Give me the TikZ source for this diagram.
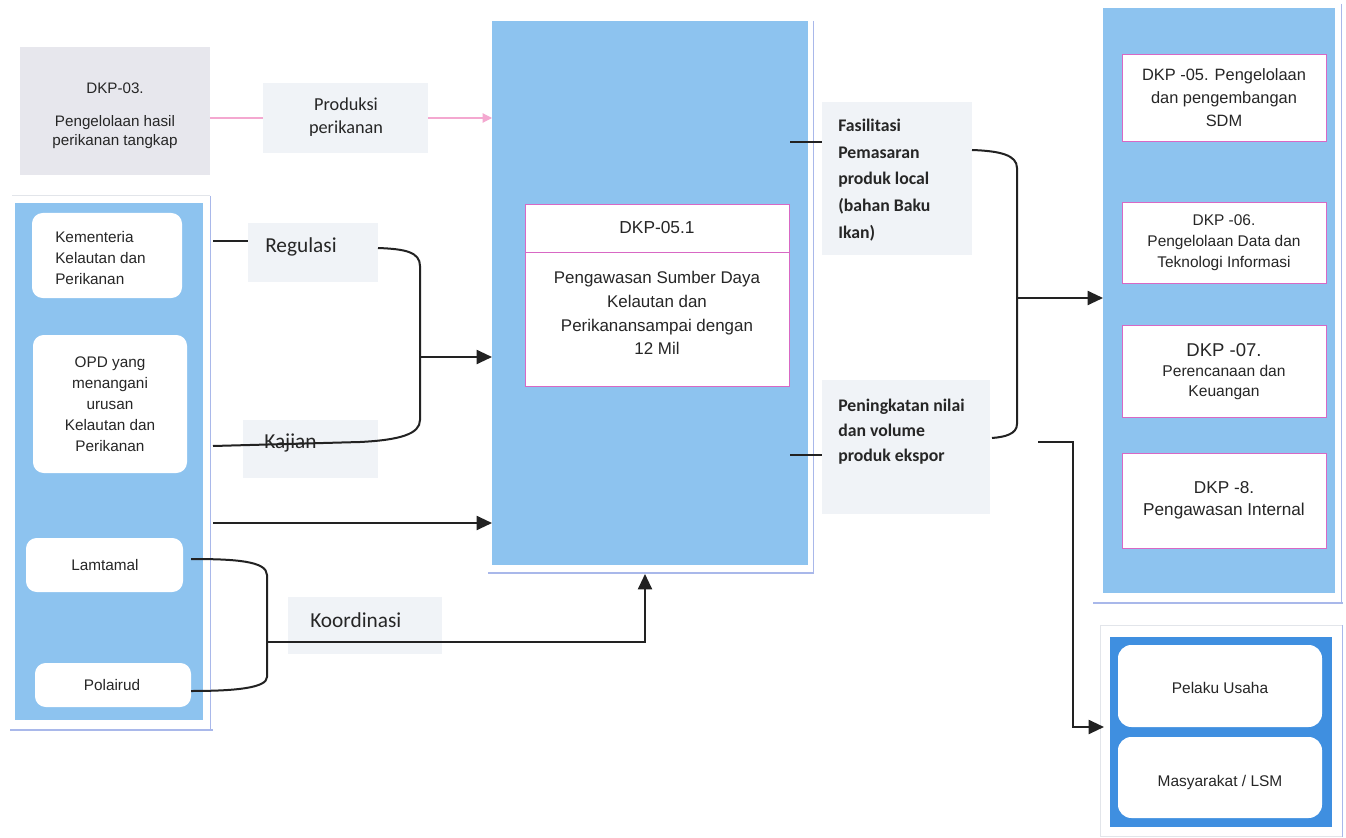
\documentclass[tikz,border=0pt]{standalone}
\usepackage{fontspec}
\setmainfont{Liberation Sans}
\newfontfamily\calfont{Carlito}
\usetikzlibrary{arrows.meta,fit}

\definecolor{panelblue}{HTML}{8DC3EF}
\definecolor{deepblue}{HTML}{3F8FE0}
\definecolor{lblbg}{HTML}{F0F3F7}
\definecolor{greybg}{HTML}{E7E7ED}
\definecolor{boxpink}{HTML}{D868C4}
\definecolor{arrowpink}{HTML}{F4A8D0}
\definecolor{ink}{HTML}{262626}
\definecolor{edgeblue}{HTML}{A9B8EA}
\definecolor{edgegrey}{HTML}{E2E5EA}
\definecolor{wire}{HTML}{222222}

\tikzset{
  area/.style={inner sep=0pt, outer sep=0pt, draw=none},
  panel/.style={area, fill=panelblue},
  whitebox/.style={area, fill=white, rounded corners=8pt},
  pinkbox/.style={area, fill=white, draw=boxpink, line width=0.6pt},
  lblbox/.style={area, fill=lblbg},
  txt/.style={inner sep=0pt, text=ink, align=center},
  lbltxt/.style={inner sep=0pt, text=ink, align=left, font=\calfont\fontsize{16pt}{19pt}\selectfont},
  wirepath/.style={draw=wire, line width=1.5pt},
  tip/.style={-{Triangle[length=11.5pt,width=10.5pt]}},
  pinkwire/.style={draw=arrowpink, line width=0.8pt, -{Triangle[length=7pt,width=7pt]}},
  edgeline/.style={draw=edgeblue, line width=2pt},
  edgethin/.style={draw=edgeblue, line width=0.6pt},
}

\begin{document}
\begin{tikzpicture}[x=0.75pt,y=-0.75pt]
\fill[white] (0,0) rectangle (1346,838);
\useasboundingbox (0,0) rectangle (1346,838);

% ---------- top-left source ----------
\node[area, fill=greybg, fit={(20,47)(210,175)}] (dkp03) {};
\node[txt, font=\fontsize{11.4pt}{14pt}\selectfont] (dkp03a) at (115,88) {DKP-03.};
\node[txt, font=\fontsize{11.4pt}{14.25pt}\selectfont] (dkp03b) at (115,132) {Pengelolaan hasil\\perikanan tangkap};

% ---------- central process ----------
\draw[edgethin] (813,21) -- (813,574);
\draw[edgeline] (488,573) -- (814,573);
\node[panel, fit={(492,21)(808,565)}] (core) {};

\coordinate (pinkA) at (210,118);
\draw[pinkwire] (pinkA) -- (core.west |- pinkA);
\node[lblbox, fit={(263,83)(428,153)}] (prodbox) {};
\node[txt, font=\calfont\fontsize{13.7pt}{17.25pt}\selectfont] (prodtxt) at (346,117) {Produksi\\perikanan};

\node[pinkbox, fit={(525,204)(789,386)}] (dkp051) {};
\draw[draw=boxpink, line width=0.6pt] (dkp051.west |- 0,252) -- (dkp051.east |- 0,252);
\node[txt, font=\fontsize{13pt}{16pt}\selectfont] (dkp051h) at (657,228) {DKP-05.1};
\node[txt, font=\fontsize{12.7pt}{17.8pt}\selectfont] (dkp051b) at (657,313)
  {Pengawasan Sumber Daya\\Kelautan dan\\Perikanansampai dengan\\12 Mil};

% ---------- left stakeholders ----------
\draw[draw=edgegrey, line width=0.5pt] (12,195) -- (210,195);
\draw[edgethin] (210,196) -- (210,731);
\draw[edgeline] (10,730) -- (213,730);
\node[panel, fit={(15,203)(203,720)}] (left) {};

\node[whitebox, fit={(32,213)(182,298)}] (kem) {};
\node[txt, align=left, anchor=west, font=\fontsize{11.5pt}{15.75pt}\selectfont] (kemtxt) at (55,258)
  {Kementeria\\Kelautan dan\\Perikanan};
\node[whitebox, fit={(33,335)(187,473)}] (opd) {};
\node[txt, font=\fontsize{11.5pt}{15.75pt}\selectfont] (opdtxt) at (110,404)
  {OPD yang\\menangani\\urusan\\Kelautan dan\\Perikanan};
\node[whitebox, fit={(26,538)(183,592)}] (lam) {};
\node[txt, font=\fontsize{11.5pt}{14pt}\selectfont] (lamtxt) at (105,565) {Lamtamal};
\node[whitebox, fit={(35,663)(191,707)}] (pol) {};
\node[txt, font=\fontsize{11.5pt}{14pt}\selectfont] (poltxt) at (112,685) {Polairud};

% Regulasi / Kajian merge into the central process
\coordinate (regA) at (213,241);
\coordinate (regB) at (250,241);
\draw[wirepath] (regA) -- (regB);
\node[lblbox, fit={(248,223)(378,282)}] (regbox) {};
\node[lbltxt, anchor=west] (regtxt) at (265,247) {Regulasi};
\node[lblbox, fit={(243,420)(378,478)}] (kajbox) {};
\node[lbltxt, anchor=west] (kajtxt) at (264,443) {Kajian};

\coordinate (brA) at (378,248);
\coordinate (brB) at (420,266);
\coordinate (brC) at (420,420);
\coordinate (brD) at (360,442);
\coordinate (kajA) at (213,446);
\draw[wirepath] (brA) .. controls (405,249) and (420,252) .. (brB) -- (brC)
  .. controls (420,434) and (400,440) .. (brD) -- (kajA);
\coordinate (brM) at (420,357);
\draw[wirepath, tip] (brM) -- (core.west |- brM);

\coordinate (leftA) at (213,523);
\draw[wirepath, tip] (leftA) -- (core.west |- leftA);

% Koordinasi from Lamtamal and Polairud
\node[lblbox, fit={(288,597)(442,654)}] (korbox) {};
\node[lbltxt, anchor=west] (kortxt) at (310,620) {Koordinasi};
\coordinate (lamA) at (191,559);
\coordinate (lamB) at (267,575);
\coordinate (polB) at (267,677);
\coordinate (polA) at (191,691);
\draw[wirepath] (lamA) .. controls (235,559) and (267,561) .. (lamB) -- (polB)
  .. controls (267,688) and (235,691) .. (polA);
\coordinate (korA) at (267,642);
\coordinate (korB) at (645,642);
\draw[wirepath, tip] (korA) -- (korB) -- (korB |- 0,574);

% ---------- outputs of the central process ----------
\coordinate (fasA) at (790,142);
\coordinate (penA) at (790,455);
\draw[wirepath] (fasA) -- (822,142);
\draw[wirepath] (penA) -- (822,455);
\node[lblbox, fit={(822,102)(972,255)}] (fasbox) {};
\node[txt, align=left, anchor=west, font=\calfont\bfseries\fontsize{13.3pt}{20.1pt}\selectfont] (fastxt) at (838,180)
  {Fasilitasi\\Pemasaran\\produk local\\(bahan Baku\\Ikan)};
\node[lblbox, fit={(822,380)(990,514)}] (penbox) {};
\node[txt, align=left, anchor=west, font=\calfont\bfseries\fontsize{13.3pt}{18.75pt}\selectfont] (pentxt) at (838,432)
  {Peningkatan nilai\\dan volume\\produk ekspor};

% ---------- internal units ----------
\draw[edgethin] (1341,4) -- (1341,603);
\draw[edgeline] (1093,603) -- (1343,603);
\node[panel, fit={(1103,8)(1335,593)}] (units) {};
\node[pinkbox, fit={(1122,54)(1326,141)}] (u05) {};
\node[txt, font=\fontsize{12.3pt}{17.25pt}\selectfont] (u05t) at (u05) {DKP -05. Pengelolaan\\dan pengembangan\\SDM};
\node[pinkbox, fit={(1122,202)(1326,283)}] (u06) {};
\node[txt, font=\fontsize{11.6pt}{15.75pt}\selectfont] (u06t) at (u06) {DKP -06.\\Pengelolaan Data dan\\Teknologi Informasi};
\node[pinkbox, fit={(1122,325)(1326,417)}] (u07) {};
\node[txt, font=\fontsize{13.9pt}{16pt}\selectfont] (u07h) at (1224,350) {DKP -07.};
\node[txt, font=\fontsize{11.7pt}{15pt}\selectfont] (u07t) at (1224,382) {Perencanaan dan\\Keuangan};
\node[pinkbox, fit={(1122,453)(1326,548)}] (u08) {};
\node[txt, font=\fontsize{12.9pt}{16.5pt}\selectfont] (u08t) at (1224,500) {DKP -8.\\Pengawasan Internal};

\coordinate (outA) at (972,150);
\coordinate (outB) at (1017,168);
\coordinate (outC) at (1017,424);
\coordinate (outD) at (992,438);
\draw[wirepath] (outA) .. controls (1000,151) and (1017,155) .. (outB) -- (outC)
  .. controls (1017,434) and (1005,437) .. (outD);
\coordinate (outM) at (1017,298);
\draw[wirepath, tip] (outM) -- (units.west |- outM);

% ---------- external parties ----------
\draw[draw=edgegrey, line width=0.6pt] (1100,625) rectangle (1342,836);
\draw[edgethin] (1342,625) -- (1342,837);
\node[area, fill=deepblue, fit={(1110,637)(1332,827)}] (ext) {};
\node[area, fill=white, rounded corners=10pt, fit={(1118,645)(1322,727)}] (pelaku) {};
\node[txt, font=\fontsize{11.6pt}{14pt}\selectfont] (pelakutxt) at (1220,688) {Pelaku Usaha};
\node[area, fill=white, rounded corners=10pt, fit={(1118,737)(1322,818)}] (lsm) {};
\node[txt, font=\fontsize{11.6pt}{14pt}\selectfont] (lsmtxt) at (1220,782) {Masyarakat / LSM};

\coordinate (extA) at (1038,442);
\coordinate (extB) at (1073,442);
\coordinate (extC) at (1073,727);
\draw[wirepath, tip] (extA) -- (extB) -- (extC) -- (1104,727);
\end{tikzpicture}
\end{document}
